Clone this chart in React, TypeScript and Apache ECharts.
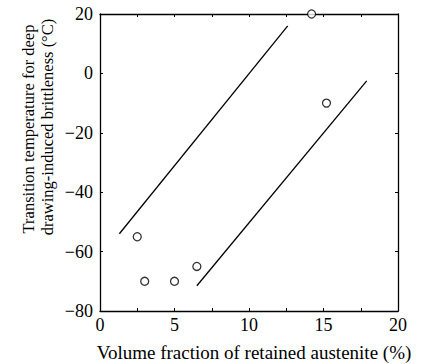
import React, { useEffect, useRef } from "react";
import * as echarts from "echarts";

// Measured specimens: retained austenite (%) vs. transition temperature (°C)
const austenite = [2.5, 3, 5, 6.5, 14.2, 15.2];
const transitionTemp = [-55, -70, -70, -65, 20, -10];

// Hand-drawn boundary lines of the scatter band
const upperBand = [
  [1.3, -54],
  [12.6, 16],
];
const lowerBand = [
  [6.5, -71.5],
  [17.9, -2.5],
];

const xTicks = [0, 5, 10, 15, 20];
const yTicks = [-80, -60, -40, -20, 0, 20];

const FONT = "Liberation Serif";

export default function App() {
  const ref = useRef<HTMLDivElement>(null);

  useEffect(() => {
    if (!ref.current) return;
    const chart = echarts.init(ref.current, null, { renderer: "svg" });

    const axisCommon = {
      axisLine: { show: true, onZero: false, lineStyle: { color: "#000", width: 1.3 } },
      axisTick: { show: true, inside: true, length: 3, lineStyle: { color: "#000", width: 1 } },
      splitLine: { show: false },
    };

    const tickLabel = { color: "#000", fontFamily: FONT, fontSize: 18 };

    chart.setOption({
      animation: false,
      backgroundColor: "#fff",
      textStyle: { fontFamily: FONT, color: "#000" },
      grid: { left: 100, top: 14, width: 298, height: 297, containLabel: false },
      xAxis: [
        {
          ...axisCommon,
          type: "value",
          position: "bottom",
          min: xTicks[0],
          max: xTicks[xTicks.length - 1],
          interval: 2.5,
          axisLabel: {
            ...tickLabel,
            margin: 5,
            formatter: (v: number) => (xTicks.includes(v) ? String(v) : ""),
          },
        },
        {
          ...axisCommon,
          type: "value",
          position: "top",
          min: xTicks[0],
          max: xTicks[xTicks.length - 1],
          interval: 2.5,
          axisLabel: { show: false },
        },
      ],
      yAxis: [
        {
          ...axisCommon,
          type: "value",
          position: "left",
          min: yTicks[0],
          max: yTicks[yTicks.length - 1],
          interval: 20,
          axisLabel: {
            ...tickLabel,
            margin: 7,
            formatter: (v: number) => (v < 0 ? "\u2212" + Math.abs(v) : String(v)),
          },
        },
        {
          ...axisCommon,
          type: "value",
          position: "right",
          min: yTicks[0],
          max: yTicks[yTicks.length - 1],
          interval: 20,
          axisLabel: { show: false },
        },
      ],
      graphic: [
        {
          type: "text",
          x: 28,
          y: 129,
          rotation: Math.PI / 2,
          style: {
            text: "Transition temperature for deep",
            fontFamily: FONT,
            fontSize: 16.5,
            fill: "#000",
            textAlign: "center",
            textVerticalAlign: "middle",
          },
        },
        {
          type: "text",
          x: 47,
          y: 127,
          rotation: Math.PI / 2,
          style: {
            text: "drawing-induced brittleness (\u00b0C)",
            fontFamily: FONT,
            fontSize: 16.5,
            fill: "#000",
            textAlign: "center",
            textVerticalAlign: "middle",
          },
        },
        {
          type: "text",
          x: 254,
          y: 352,
          style: {
            text: "Volume fraction of retained austenite (%)",
            fontFamily: FONT,
            fontSize: 19,
            fill: "#000",
            textAlign: "center",
            textVerticalAlign: "middle",
          },
        },
      ],
      series: [
        {
          type: "line",
          data: upperBand,
          showSymbol: false,
          lineStyle: { color: "#000", width: 1.3 },
        },
        {
          type: "line",
          data: lowerBand,
          showSymbol: false,
          lineStyle: { color: "#000", width: 1.3 },
        },
        {
          type: "scatter",
          data: austenite.map((x, i) => [x, transitionTemp[i]]),
          symbol: "circle",
          symbolSize: 8,
          clip: false,
          itemStyle: { color: "#fff", borderColor: "#000", borderWidth: 1.3 },
          z: 5,
        },
      ],
    });

    return () => chart.dispose();
  }, []);

  return <div ref={ref} style={{ width: 427, height: 364, position: "absolute", left: 0, top: 0 }} />;
}
